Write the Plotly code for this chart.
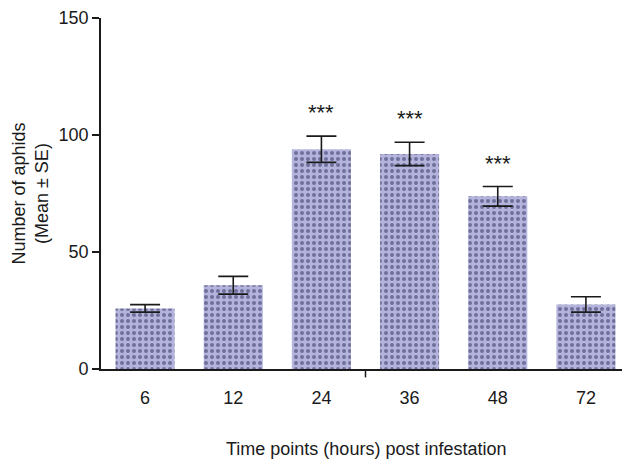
import plotly.graph_objects as go

categories = ["6", "12", "24", "36", "48", "72"]
means = [25.9, 35.8, 93.9, 91.9, 73.8, 27.6]
se = [1.6, 3.8, 5.6, 5.0, 4.2, 3.3]
signif = ["", "", "***", "***", "***", ""]
y_ticks = [0, 50, 100, 150]

FONT = "Liberation Sans, Arial, sans-serif"
INK = "#1a1a1a"

fig = go.Figure()
fig.add_trace(go.Bar(
    x=list(range(len(categories))),
    y=means,
    width=0.67,
    marker=dict(
        color="#b3b3dc",
        line=dict(width=0),
        pattern=dict(shape=".", fgcolor="#2b2b5c", bgcolor="#b3b3dc",
                     size=6, solidity=0.35),
    ),
    error_y=dict(type="data", array=se, visible=True, color=INK,
                 thickness=1.6, width=15),
    showlegend=False,
))

annotations = []
for i, s in enumerate(signif):
    if s:
        annotations.append(dict(
            x=i, y=means[i] + se[i] + 10.0, xref="x", yref="y",
            text=s, showarrow=False, yanchor="middle",
            font=dict(family=FONT, size=22, color=INK),
        ))

annotations.append(dict(
    x=0.5, y=-0.2266, xref="paper", yref="paper",
    text="Time points (hours) post infestation", showarrow=False,
    yanchor="middle", xanchor="center",
    font=dict(family=FONT, size=18, color=INK),
))
annotations.append(dict(
    x=-0.134, y=0.5, xref="paper", yref="paper",
    text="Number of aphids<br>(Mean ± SE)", showarrow=False,
    textangle=-90, xanchor="center", yanchor="middle",
    font=dict(family=FONT, size=18, color=INK),
))

fig.update_layout(
    width=622, height=455,
    margin=dict(l=93, r=0, t=8, b=94),
    paper_bgcolor="white", plot_bgcolor="white",
    annotations=annotations,
    shapes=[dict(type="line", xref="x", yref="paper",
                 x0=2.5, x1=2.5, y0=0, y1=-0.024,
                 line=dict(color=INK, width=1.5))],
)
fig.update_xaxes(
    range=[-0.5, 5.5],
    tickmode="array", tickvals=list(range(len(categories))), ticktext=categories,
    showline=True, linecolor=INK, linewidth=1.6,
    ticks="", showgrid=False, zeroline=False,
    ticklabelstandoff=12,
    tickfont=dict(family=FONT, size=18, color=INK),
)
fig.update_yaxes(
    range=[0, 150],
    tickmode="array", tickvals=y_ticks,
    showline=True, linecolor=INK, linewidth=1.6,
    ticks="outside", ticklen=7, tickwidth=1.5, tickcolor=INK,
    showgrid=False, zeroline=False,
    ticklabeloverflow="allow",
    tickfont=dict(family=FONT, size=18, color=INK),
)

fig.write_html("out.html")
